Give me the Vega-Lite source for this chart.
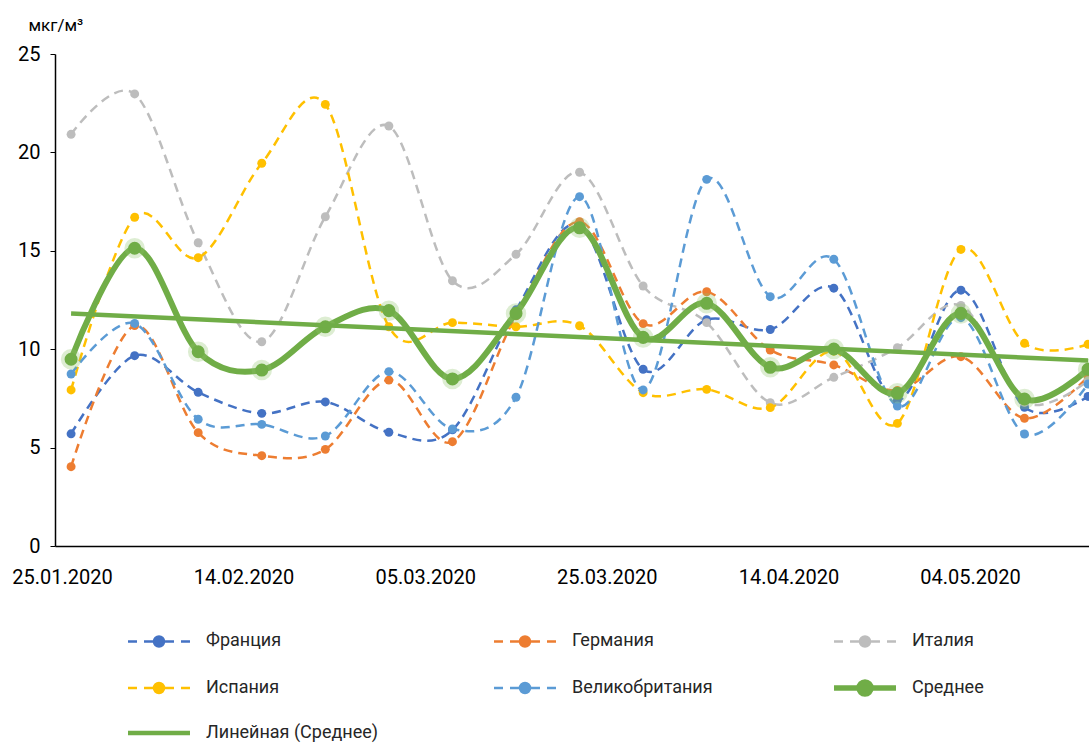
{
  "$schema": "https://vega.github.io/schema/vega-lite/v6.json",
  "width": 1034,
  "height": 492,
  "autosize": {"type": "none"},
  "padding": {"left": 55, "top": 54, "right": 0, "bottom": 198},
  "background": "white",
  "config": {"font": "Roboto", "view": {"stroke": null}},
  "datasets": {
    "pm": [
      {"date": "2020-01-26", "Франция": 5.7, "Германия": 4.03, "Италия": 20.92, "Испания": 7.93, "Великобритания": 8.74, "Среднее": 9.49},
      {"date": "2020-02-02", "Франция": 9.67, "Германия": 11.2, "Италия": 22.97, "Испания": 16.7, "Великобритания": 11.31, "Среднее": 15.13},
      {"date": "2020-02-09", "Франция": 7.81, "Германия": 5.76, "Италия": 15.41, "Испания": 14.65, "Великобритания": 6.44, "Среднее": 9.87},
      {"date": "2020-02-16", "Франция": 6.74, "Германия": 4.59, "Италия": 10.38, "Испания": 19.45, "Великобритания": 6.18, "Среднее": 8.94},
      {"date": "2020-02-23", "Франция": 7.32, "Германия": 4.91, "Италия": 16.73, "Испания": 22.44, "Великобритания": 5.59, "Среднее": 11.14},
      {"date": "2020-03-01", "Франция": 5.78, "Германия": 8.43, "Италия": 21.34, "Испания": 11.14, "Великобритания": 8.86, "Среднее": 11.96},
      {"date": "2020-03-08", "Франция": 5.9, "Германия": 5.3, "Италия": 13.48, "Испания": 11.35, "Великобритания": 5.95, "Среднее": 8.49},
      {"date": "2020-03-15", "Франция": 12.0, "Германия": 11.7, "Италия": 14.82, "Испания": 11.14, "Великобритания": 7.56, "Среднее": 11.82},
      {"date": "2020-03-22", "Франция": 16.3, "Германия": 16.48, "Италия": 18.99, "Испания": 11.19, "Великобритания": 17.75, "Среднее": 16.17},
      {"date": "2020-03-29", "Франция": 8.98, "Германия": 11.3, "Италия": 13.21, "Испания": 7.79, "Великобритания": 7.93, "Среднее": 10.6},
      {"date": "2020-04-05", "Франция": 11.5, "Германия": 12.92, "Италия": 11.35, "Испания": 7.96, "Великобритания": 18.63, "Среднее": 12.33},
      {"date": "2020-04-12", "Франция": 11.0, "Германия": 9.96, "Италия": 7.28, "Испания": 7.03, "Великобритания": 12.67, "Среднее": 9.08},
      {"date": "2020-04-19", "Франция": 13.1, "Германия": 9.2, "Италия": 8.57, "Испания": 9.9, "Великобритания": 14.57, "Среднее": 10.01},
      {"date": "2020-04-26", "Франция": 7.4, "Германия": 7.9, "Италия": 10.08, "Испания": 6.23, "Великобритания": 7.11, "Среднее": 7.76},
      {"date": "2020-05-03", "Франция": 13.0, "Германия": 9.62, "Италия": 12.22, "Испания": 15.07, "Великобритания": 11.6, "Среднее": 11.82},
      {"date": "2020-05-10", "Франция": 7.05, "Германия": 6.49, "Италия": 7.3, "Испания": 10.3, "Великобритания": 5.69, "Среднее": 7.47},
      {"date": "2020-05-17", "Франция": 7.6, "Германия": 8.6, "Италия": 8.4, "Испания": 10.25, "Великобритания": 8.23, "Среднее": 8.98}
    ],
    "trend": [
      {"date": "2020-01-26", "series": "Линейная (Среднее)", "value": 11.82},
      {"date": "2020-05-17", "series": "Линейная (Среднее)", "value": 9.42}
    ]
  },
  "encoding": {
    "x": {
      "field": "date",
      "type": "temporal",
      "scale": {
        "type": "utc",
        "domain": [
          {"year": 2020, "month": 1, "date": 24, "hours": 5, "minutes": 30, "utc": true},
          {"year": 2020, "month": 5, "date": 17, "hours": 2, "minutes": 30, "utc": true}
        ]
      },
      "axis": {
        "title": null,
        "values": [
          {"year": 2020, "month": 1, "date": 25, "utc": true},
          {"year": 2020, "month": 2, "date": 14, "utc": true},
          {"year": 2020, "month": 3, "date": 5, "utc": true},
          {"year": 2020, "month": 3, "date": 25, "utc": true},
          {"year": 2020, "month": 4, "date": 14, "utc": true},
          {"year": 2020, "month": 5, "date": 4, "utc": true}
        ],
        "labelExpr": "utcFormat(datum.value, '%d.%m.%Y')",
        "grid": false,
        "ticks": false,
        "tickSize": 0,
        "domainColor": "#000000",
        "domainWidth": 1.5,
        "labelFontSize": 20,
        "labelColor": "#000000",
        "labelPadding": 21,
        "labelFlush": false,
        "labelOverlap": false
      }
    },
    "y": {
      "field": "value",
      "type": "quantitative",
      "scale": {"domain": [0, 25], "nice": false},
      "axis": {
        "values": [0, 5, 10, 15, 20, 25],
        "grid": false,
        "tickSize": 5,
        "tickColor": "#000000",
        "domainColor": "#000000",
        "domainWidth": 1.5,
        "labelFontSize": 20,
        "labelColor": "#000000",
        "labelPadding": 10,
        "title": "мкг/м³",
        "titleAngle": 0,
        "titleAlign": "left",
        "titleBaseline": "alphabetic",
        "titleX": -27,
        "titleY": -24,
        "titleFontSize": 17,
        "titleFontWeight": "normal",
        "titleColor": "#000000"
      }
    }
  },
  "layer": [
    {
      "data": {"name": "pm"},
      "transform": [
        {"fold": ["Франция", "Германия", "Италия", "Испания", "Великобритания", "Среднее"], "as": ["series", "value"]}
      ],
      "layer": [
        {
          "transform": [{"filter": "datum.series !== 'Среднее'"}],
          "mark": {"type": "line", "interpolate": "cardinal", "strokeWidth": 2.5, "strokeDash": [9, 6]},
          "encoding": {
            "color": {
              "field": "series",
              "type": "nominal",
              "scale": {
                "domain": ["Франция", "Германия", "Италия", "Испания", "Великобритания", "Среднее", "Линейная (Среднее)"],
                "range": ["#4472C4", "#ED7D31", "#BDBDBD", "#FFC000", "#5B9BD5", "#70AD47", "#70AD47"]
              },
              "legend": {
                "orient": "none",
                "direction": "horizontal",
                "legendX": 95,
                "legendY": 578,
                "columns": 3,
                "title": null,
                "values": ["Франция", "Германия", "Италия", "Испания", "Великобритания", "Среднее", "Линейная (Среднее)"],
                "symbolSize": 2209,
                "symbolType": "circle",
                "labelFontSize": 18,
                "labelColor": "#262626",
                "labelLimit": 400,
                "columnPadding": 110,
                "rowPadding": 19,
                "labelOffset": 38,
                "encode": {
                  "symbols": {
                    "update": {
                      "shape": {"signal": "datum.value === 'Среднее' ? 'M-1.319,0H1.319M-0.255,0A0.255,0.255,0,1,0,0.255,0A0.255,0.255,0,1,0,-0.255,0Z' : datum.value === 'Линейная (Среднее)' ? 'M-1.319,0H1.319' : 'M-1.319,0H-0.936M-0.638,0H-0.255M0.255,0H0.638M0.936,0H1.319M-0.213,0A0.213,0.213,0,1,0,0.213,0A0.213,0.213,0,1,0,-0.213,0Z'"},
                      "strokeWidth": {"signal": "datum.value === 'Среднее' ? 5.5 : datum.value === 'Линейная (Среднее)' ? 4.5 : 2.5"},
                      "fill": {"scale": "color", "field": "value"},
                      "stroke": {"scale": "color", "field": "value"},
                      "opacity": {"value": 1},
                      "strokeDash": {"value": []}
                    }
                  }
                }
              }
            }
          }
        },
        {
          "transform": [{"filter": "datum.series !== 'Среднее'"}],
          "mark": {"type": "point", "filled": true, "size": 80, "opacity": 1},
          "encoding": {"color": {"field": "series", "type": "nominal"}}
        },
        {
          "transform": [{"filter": "datum.series === 'Среднее'"}],
          "mark": {"type": "line", "interpolate": "cardinal", "strokeWidth": 6},
          "encoding": {"color": {"field": "series", "type": "nominal"}}
        },
        {
          "transform": [{"filter": "datum.series === 'Среднее'"}],
          "mark": {"type": "point", "filled": true, "size": 420, "opacity": 0.3, "color": "#8FC46A"},
          "encoding": {}
        },
        {
          "transform": [{"filter": "datum.series === 'Среднее'"}],
          "mark": {"type": "point", "filled": true, "size": 170, "opacity": 1},
          "encoding": {"color": {"field": "series", "type": "nominal"}}
        }
      ]
    },
    {
      "data": {"name": "trend"},
      "mark": {"type": "line", "strokeWidth": 4.5},
      "encoding": {"color": {"field": "series", "type": "nominal"}}
    }
  ]
}
